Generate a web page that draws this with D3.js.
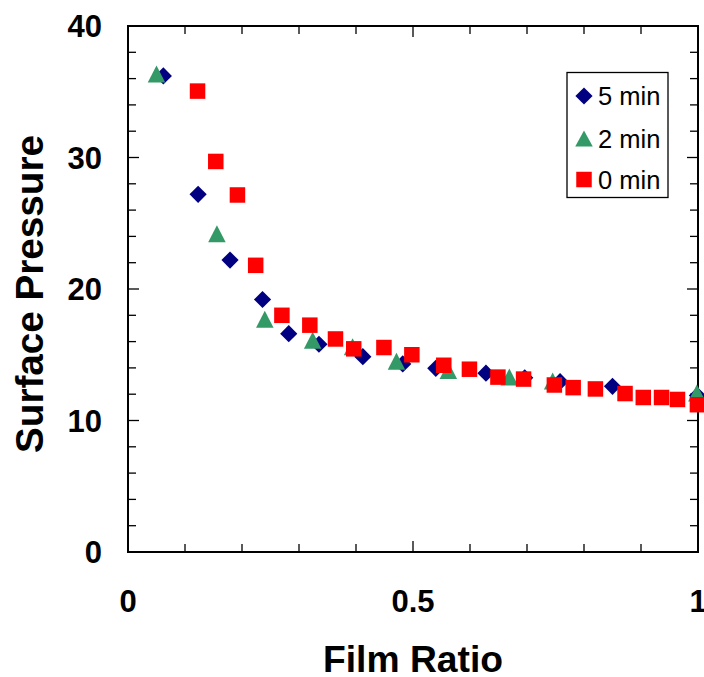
<!DOCTYPE html>
<html><head><meta charset="utf-8">
<script src="https://cdn.jsdelivr.net/npm/d3@7"></script>
<style>html,body{margin:0;padding:0;background:#fff;}</style>
</head><body>
<svg id="chart" width="704" height="677"></svg>
<script>
const series5x = [0.062,0.123,0.179,0.236,0.282,0.335,0.412,0.482,0.540,0.628,0.696,0.758,0.850,0.999];
const series5y = [36.2,27.2,22.2,19.2,16.6,15.8,14.85,14.3,13.97,13.6,13.25,12.95,12.6,11.9];
const series2x = [0.050,0.156,0.240,0.324,0.394,0.471,0.562,0.669,0.745,0.998];
const series2y = [36.35,24.2,17.7,16.1,15.6,14.5,13.8,13.3,13.0,12.1];
const series0x = [0.122,0.154,0.192,0.224,0.270,0.319,0.364,0.396,0.449,0.498,0.554,0.599,0.649,0.694,0.748,0.781,0.820,0.872,0.904,0.936,0.964,0.999];
const series0y = [35.05,29.7,27.15,21.8,18.0,17.25,16.2,15.45,15.55,15.0,14.2,13.9,13.3,13.15,12.7,12.5,12.4,12.05,11.75,11.75,11.6,11.2];
const xTickLabels = [0, 0.5, 1];
const yTickLabels = [0, 10, 20, 30, 40];
const seriesNames = ["5 min", "2 min", "0 min"];
const seriesColors = ["#000080", "#339966", "#FF0000"];

const svg = d3.select("#chart");
const L = 128, R = 698, T = 26, B = 552;
const x = d3.scaleLinear().domain([0, 1]).range([L, R]);
const y = d3.scaleLinear().domain([0, 40]).range([B, T]);

const font = "'Liberation Sans', Arial, sans-serif";

const xMinor = d3.range(0, 1.0001, 0.1);
const yMinor = d3.range(0, 40.001, 2);
const g = svg.append("g");
xMinor.forEach(v => {
  const major = Math.abs(v - 0.5) < 1e-6;
  const len = major ? 11 : 8;
  g.append("line").attr("x1", x(v)).attr("x2", x(v)).attr("y1", B).attr("y2", B - len)
    .attr("stroke", "#000").attr("stroke-width", 1.3);
  g.append("line").attr("x1", x(v)).attr("x2", x(v)).attr("y1", T).attr("y2", T + len)
    .attr("stroke", "#000").attr("stroke-width", 1.3);
});
yMinor.forEach(v => {
  const major = Math.abs(v % 10) < 1e-6;
  const len = major ? 11 : 8;
  g.append("line").attr("y1", y(v)).attr("y2", y(v)).attr("x1", L).attr("x2", L + len)
    .attr("stroke", "#000").attr("stroke-width", 1.3);
  g.append("line").attr("y1", y(v)).attr("y2", y(v)).attr("x1", R).attr("x2", R - len)
    .attr("stroke", "#000").attr("stroke-width", 1.3);
});
svg.append("rect").attr("x", L).attr("y", T).attr("width", R - L).attr("height", B - T)
  .attr("fill", "none").attr("stroke", "#000").attr("stroke-width", 2);

svg.selectAll(".xl").data(xTickLabels).enter().append("text")
  .attr("x", d => x(d)).attr("y", 612).attr("text-anchor", "middle")
  .attr("font-family", font).attr("font-weight", "bold").attr("font-size", 31)
  .text(d => d);
svg.selectAll(".yl").data(yTickLabels).enter().append("text")
  .attr("x", 102).attr("y", d => y(d) + 11).attr("text-anchor", "end")
  .attr("font-family", font).attr("font-weight", "bold").attr("font-size", 31)
  .text(d => d);

svg.append("text").attr("x", (L + R) / 2).attr("y", 672).attr("text-anchor", "middle")
  .attr("font-family", font).attr("font-weight", "bold").attr("font-size", 37)
  .attr("textLength", 180).attr("lengthAdjust", "spacingAndGlyphs")
  .text("Film Ratio");
svg.append("text").attr("transform", `translate(43,${(135 + 453) / 2}) rotate(-90)`)
  .attr("text-anchor", "middle")
  .attr("font-family", font).attr("font-weight", "bold").attr("font-size", 38)
  .attr("textLength", 318).attr("lengthAdjust", "spacingAndGlyphs")
  .text("Surface Pressure");

function diamond(cx, cy, r) { return `M${cx},${cy - r}L${cx + r},${cy}L${cx},${cy + r}L${cx - r},${cy}Z`; }
function triangle(cx, cy, w, h) { return `M${cx},${cy - h / 2}L${cx + w / 2},${cy + h / 2}L${cx - w / 2},${cy + h / 2}Z`; }
function square(cx, cy, s) { return `M${cx - s / 2},${cy - s / 2}h${s}v${s}h${-s}Z`; }

const d5 = series5x.map((v, i) => [v, series5y[i]]);
const d2 = series2x.map((v, i) => [v, series2y[i]]);
const d0 = series0x.map((v, i) => [v, series0y[i]]);

svg.append("g").selectAll("path").data(d5).enter().append("path")
  .attr("d", d => diamond(x(d[0]), y(d[1]), 8.6)).attr("fill", seriesColors[0]);
svg.append("g").selectAll("path").data(d2).enter().append("path")
  .attr("d", d => triangle(x(d[0]), y(d[1]), 17.5, 17)).attr("fill", seriesColors[1]);
svg.append("g").selectAll("path").data(d0).enter().append("path")
  .attr("d", d => square(x(d[0]), y(d[1]), 15.5)).attr("fill", seriesColors[2]);

const lg = svg.append("g");
lg.append("rect").attr("x", 567).attr("y", 72.5).attr("width", 101).attr("height", 125)
  .attr("fill", "#fff").attr("stroke", "#000").attr("stroke-width", 1.3);
const rows = [96, 138.5, 179.5];
lg.append("path").attr("d", diamond(584, rows[0], 8.6)).attr("fill", seriesColors[0]);
lg.append("path").attr("d", triangle(584, rows[1], 17.5, 16)).attr("fill", seriesColors[1]);
lg.append("path").attr("d", square(584, rows[2], 15.5)).attr("fill", seriesColors[2]);
seriesNames.forEach((n, i) => {
  lg.append("text").attr("x", 598).attr("y", rows[i] + 9)
    .attr("font-family", font).attr("font-size", 25.5).text(n);
});
</script>
</body></html>
